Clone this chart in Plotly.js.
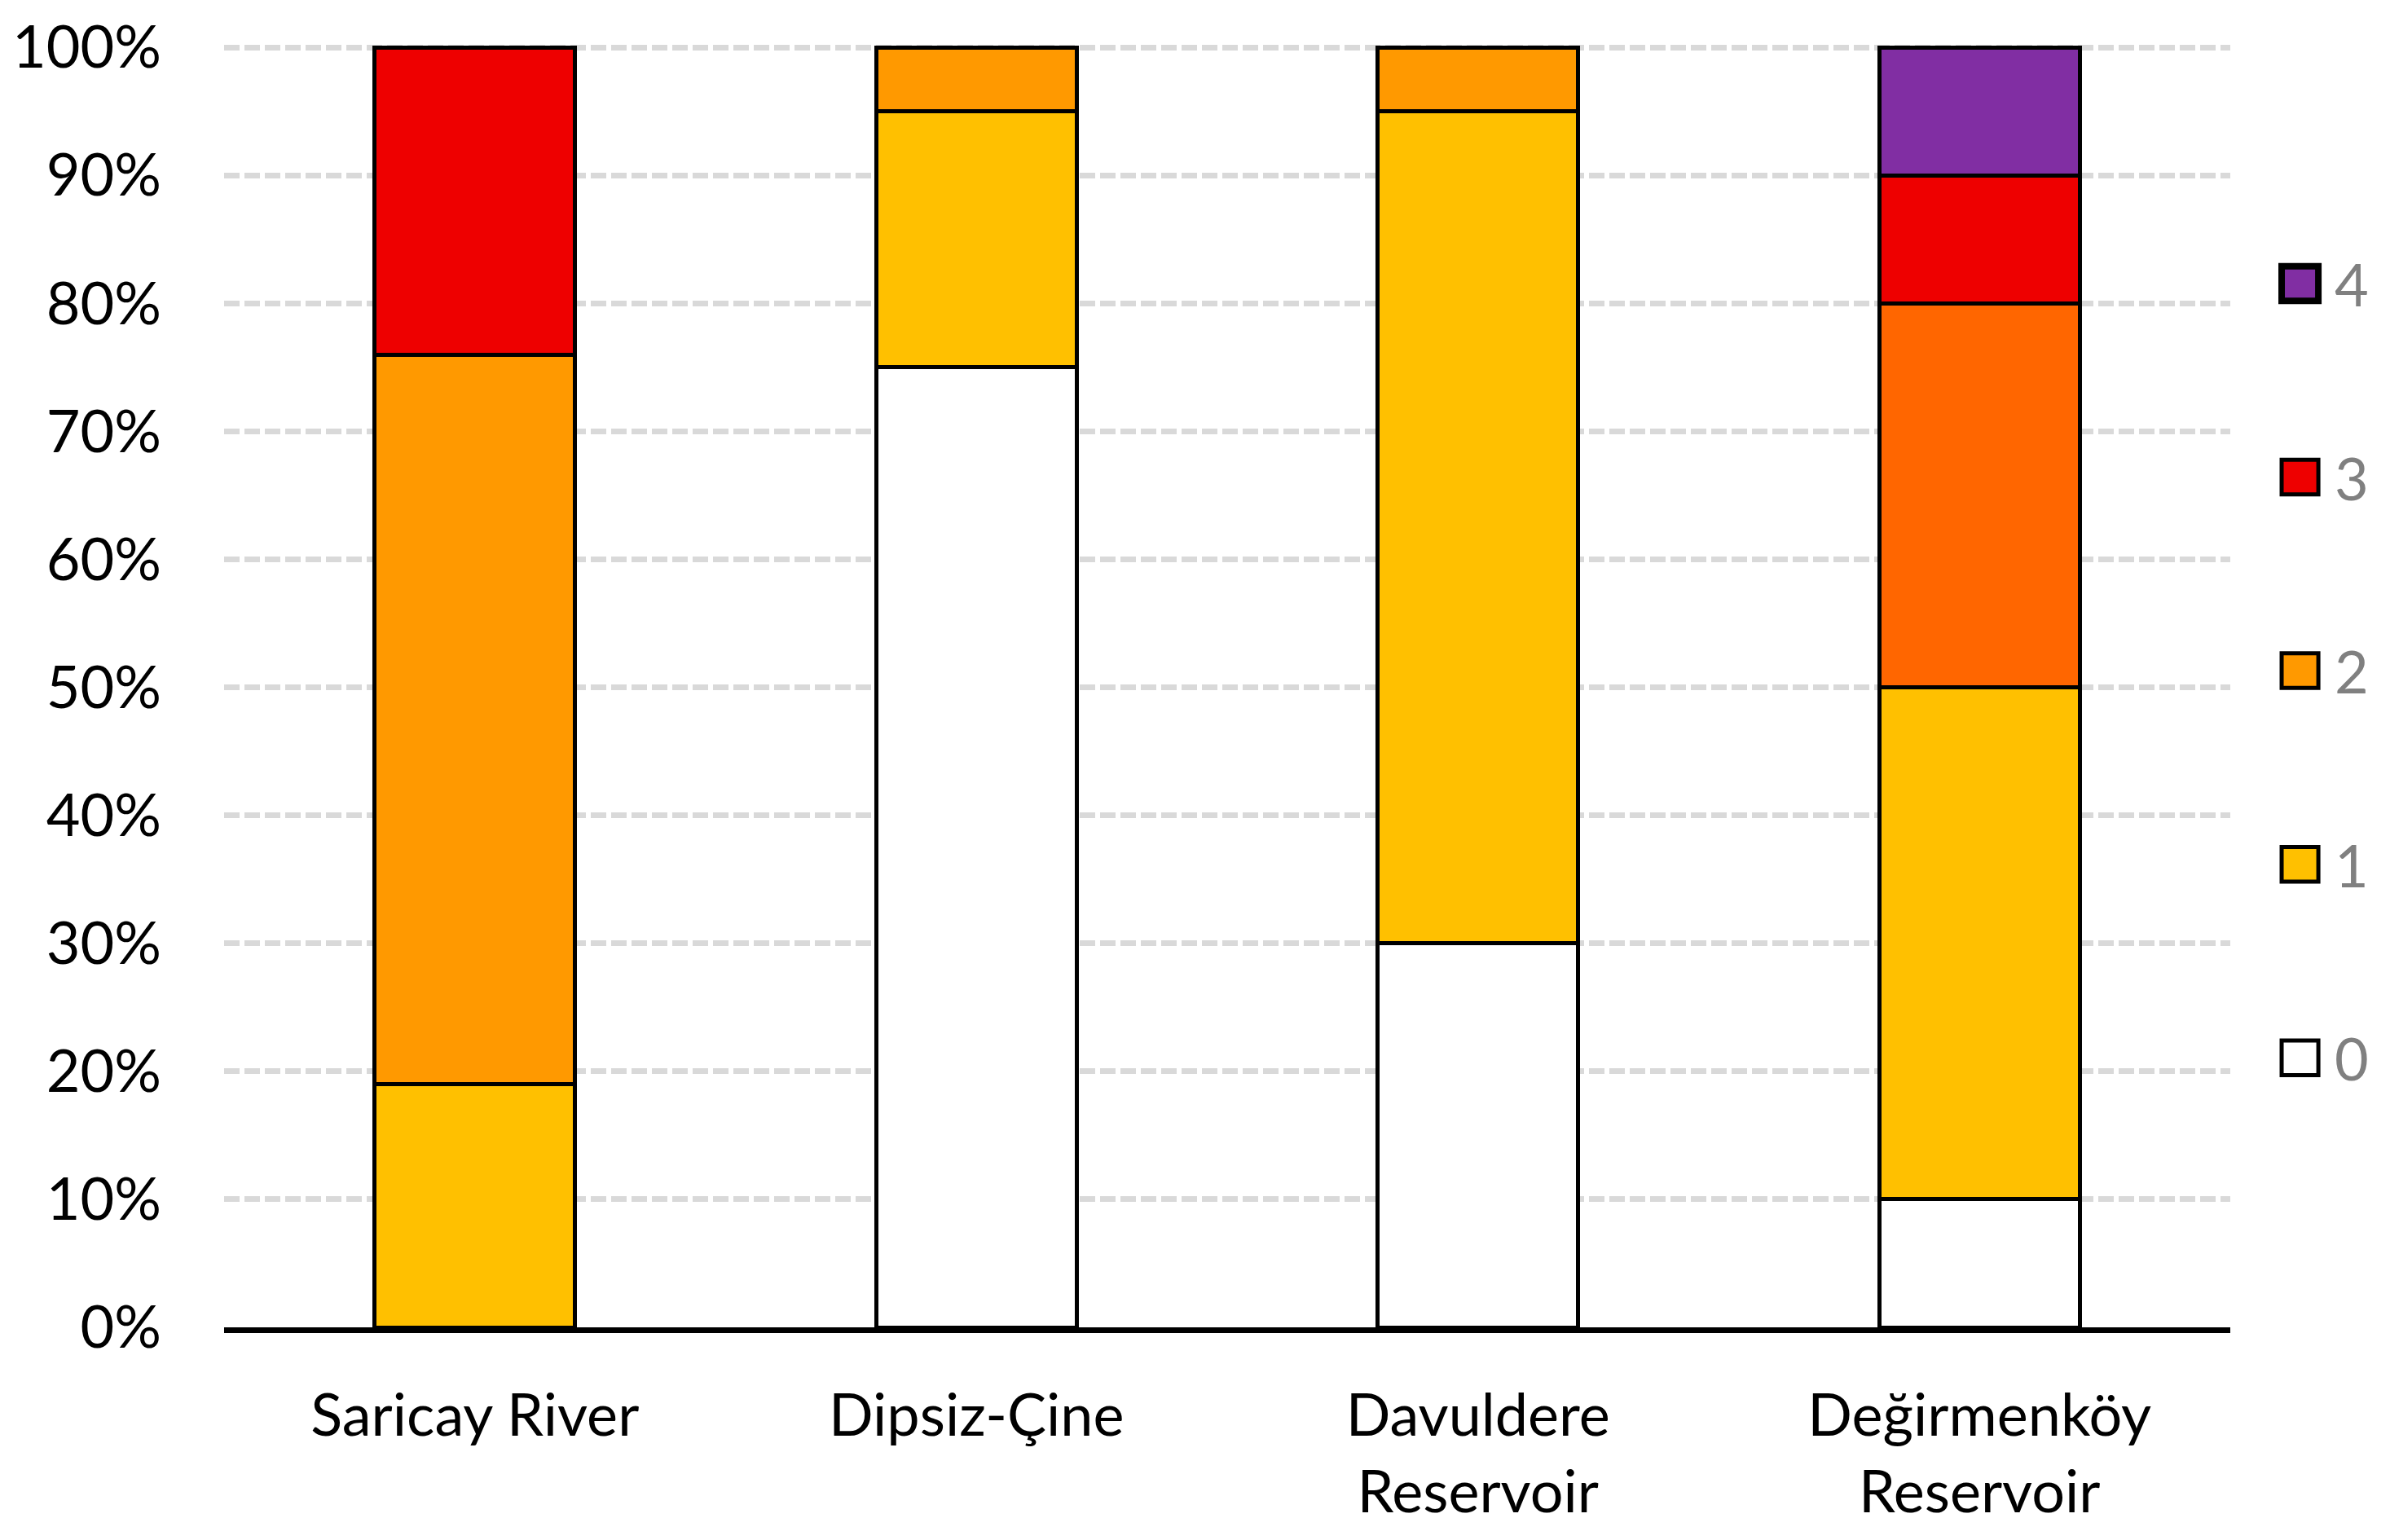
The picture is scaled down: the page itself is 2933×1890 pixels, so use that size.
<!DOCTYPE html>
<html>
<head>
<meta charset="utf-8">
<script src="https://cdn.plot.ly/plotly-3.0.1.min.js"></script>
<style>
html,body{margin:0;padding:0;background:#fff;}
#chart{width:2933px;height:1890px;}
</style>
</head>
<body>
<div id="chart"></div>
<script>
const categories = ["Saricay River", "Dipsiz-Çine", "Davuldere<br>Reservoir", "Değirmenköy<br>Reservoir"];
const seriesNames = ["0", "1", "2", "3", "4"];
const values0 = [0, 75, 30, 10];
const values1 = [19, 20, 65, 40];
const values2 = [57, 5, 5, 30];
const values3 = [24, 0, 0, 10];
const values4 = [0, 0, 0, 10];
const seriesColors = ["#FFFFFF", "#FFC000", "#FF9900", "#EE0000", "#812EA3"];
const series2PointColors = ["#FF9900", "#FF9900", "#FF9900", "#FF6600"];
const tickValues = [0, 10, 20, 30, 40, 50, 60, 70, 80, 90, 100];

const allValues = [values0, values1, values2, values3, values4];
const FONT = "Lato, 'Open Sans', sans-serif";

const traces = allValues.map((vals, i) => ({
  type: "bar",
  name: seriesNames[i],
  x: categories,
  y: vals,
  width: 0.4,
  marker: {
    color: i === 2 ? series2PointColors : seriesColors[i],
    line: {color: "#000000", width: 5}
  },
  showlegend: false,
  hoverinfo: "none"
}));

// Custom legend (large square symbols like the reference)
const shapes = [];
const annotations = [];
const legX0 = 1.0256, legX1 = 1.0439, legTextX = 1.051;
const legTop = 0.8138, legStep = 0.1509, symH = 0.027;
for (let k = 0; k < seriesNames.length; k++) {
  const idx = seriesNames.length - 1 - k; // 4 at top
  const yc = legTop - k * legStep;
  shapes.push({
    type: "rect", xref: "paper", yref: "paper",
    x0: legX0, x1: legX1, y0: yc - symH / 2, y1: yc + symH / 2,
    fillcolor: seriesColors[idx],
    line: {color: "#000000", width: idx === 4 ? 8 : 5}
  });
  annotations.push({
    xref: "paper", yref: "paper", x: legTextX, y: yc,
    xanchor: "left", yanchor: "middle",
    text: seriesNames[idx], showarrow: false,
    font: {family: FONT, size: 72, color: "#808080"}
  });
}

const layout = {
  width: 2933,
  height: 1890,
  margin: {l: 275, r: 196, t: 55, b: 261},
  paper_bgcolor: "#FFFFFF",
  plot_bgcolor: "#FFFFFF",
  barmode: "stack",
  showlegend: false,
  font: {family: FONT, size: 72, color: "#000000"},
  xaxis: {
    type: "category",
    showgrid: false,
    showline: true,
    linecolor: "#000000",
    linewidth: 7,
    ticks: "",
    ticklabelstandoff: 40,
    tickfont: {family: FONT, size: 72, color: "#000000"},
    zeroline: false,
    fixedrange: true
  },
  yaxis: {
    range: [0, 100.2],
    tickmode: "array",
    tickvals: tickValues,
    ticktext: tickValues.map(v => v + "%"),
    showgrid: true,
    gridcolor: "#D9D9D9",
    gridwidth: 7,
    griddash: "19px,6px",
    showline: false,
    zeroline: false,
    ticks: "",
    ticklabelstandoff: 76,
    tickfont: {family: FONT, size: 72, color: "#000000"},
    fixedrange: true
  },
  shapes: shapes,
  annotations: annotations
};

Plotly.newPlot("chart", traces, layout, {displayModeBar: false, staticPlot: true});
</script>
</body>
</html>
